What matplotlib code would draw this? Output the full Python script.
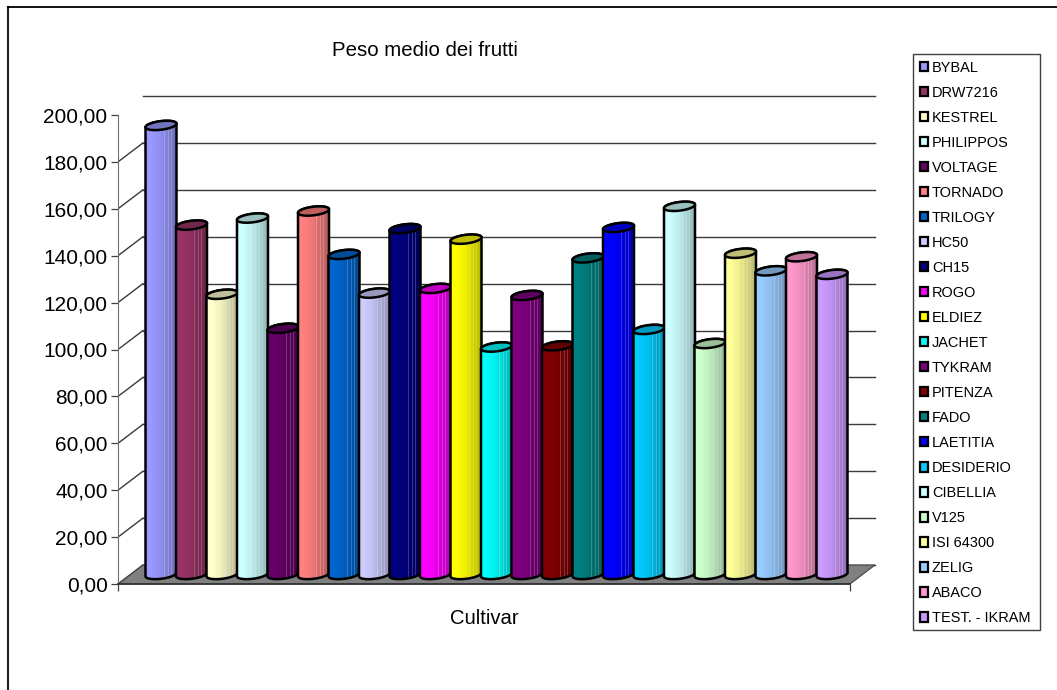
import matplotlib
matplotlib.use("Agg")
import matplotlib.pyplot as plt
from matplotlib.lines import Line2D
from matplotlib.patches import Patch, PathPatch, Polygon, Rectangle
from matplotlib.path import Path
from matplotlib.transforms import Affine2D, IdentityTransform
import numpy as np

plt.rcParams['font.family'] = ['Liberation Sans', 'DejaVu Sans']

cultivars = ["BYBAL", "DRW7216", "KESTREL", "PHILIPPOS", "VOLTAGE", "TORNADO", "TRILOGY", "HC50",
             "CH15", "ROGO", "ELDIEZ", "JACHET", "TYKRAM", "PITENZA", "FADO", "LAETITIA",
             "DESIDERIO", "CIBELLIA", "V125", "ISI 64300", "ZELIG", "ABACO", "TEST. - IKRAM"]
peso = [191.5, 149, 119.5, 152, 105, 155, 136.5, 120,
        147.5, 122, 143, 97, 119, 97.5, 135, 148,
        104.5, 157, 98.5, 137, 129.5, 135.5, 128]
colours = ["#9999FF", "#993366", "#FFFFCC", "#CCFFFF", "#660066", "#FF8080", "#0066CC", "#CCCCFF",
           "#000080", "#FF00FF", "#FFFF00", "#00FFFF", "#800080", "#800000", "#008080", "#0000FF",
           "#00CCFF", "#CCFFFF", "#CCFFCC", "#FFFF99", "#99CCFF", "#FF99CC", "#CC99FF"]
y_ticks = np.arange(0, 201, 20)

W, H = 1057, 690
WALL_DX, WALL_DY = 25, 19   # oblique shift of the back wall, in pixels
CYL_A, CYL_B, CYL_TILT = 15.5, 4.3, 1.8


def rgb(hex_colour):
    return np.array(matplotlib.colors.to_rgb(hex_colour))


def cylinder_shading(colour):
    # bright on the left, darker on the right, with the thin lighter streaks
    n = 32
    shade = np.interp(np.arange(n), [0, 5, 16, 31], [1.0, 1.0, 0.92, 0.72])
    col = np.outer(shade, rgb(colour))
    for k in (19, 23, 26):
        col[k] = col[k] + (1 - col[k]) * 0.2
    return col[np.newaxis, :, :].clip(0, 1)


def ellipse_xy(cx, cy, t):
    return cx + CYL_A * np.cos(t), cy + CYL_B * np.sin(t) + CYL_TILT * np.cos(t)


def draw_cylinder(ax, pos, value, colour, zorder):
    shift = Affine2D().translate(WALL_DX / 2, WALL_DY / 2)
    to_px = ax.transData + shift
    cx, y0 = to_px.transform((pos, 0))
    _, y1 = to_px.transform((pos, value))

    bottom = np.linspace(np.pi, 2 * np.pi, 40)
    top = np.linspace(0, np.pi, 40)
    bx, by = ellipse_xy(cx, y0, bottom)
    tx, ty = ellipse_xy(cx, y1, top)
    outline = np.column_stack([np.r_[bx, tx], np.r_[by, ty]])
    body = Path(np.vstack([outline, outline[0]]), closed=True)

    patch = PathPatch(body, transform=IdentityTransform(), fc="none", ec="black", lw=1.8,
                      zorder=zorder + 0.2, clip_on=False)
    ax.add_patch(patch)
    im = ax.imshow(cylinder_shading(colour), extent=(cx - CYL_A, cx + CYL_A, y0 - 8, y1 + 8),
                   transform=IdentityTransform(), aspect="auto", interpolation="nearest",
                   origin="lower", zorder=zorder)
    im.set_clip_path(PathPatch(body, transform=IdentityTransform()))

    rim = np.linspace(0, 2 * np.pi, 80)
    ex, ey = ellipse_xy(cx, y1, rim)
    ax.add_patch(Polygon(np.column_stack([ex, ey]), closed=True, transform=IdentityTransform(),
                         fc=rgb(colour) * 0.75, ec="black", lw=1.8, zorder=zorder + 0.3, clip_on=False))


fig = plt.figure(figsize=(W / 100, H / 100), dpi=100, facecolor="white")
ax = fig.add_axes([118 / W, (H - 584) / H, 732 / W, 469 / H])
ax.set_xlim(-1, 23)
ax.set_ylim(0, 200)
ax.patch.set_visible(False)

for side in ("top", "right"):
    ax.spines[side].set_visible(False)
ax.spines["left"].set_color("#707070")
ax.spines["bottom"].set_color("#303030")
ax.spines["bottom"].set_linewidth(1.2)

# back wall and the left wall rungs, pushed back from the front plane
wall = ax.transData + Affine2D().translate(WALL_DX, WALL_DY)
for v in y_ticks:
    ax.plot([-1, 23], [v, v], transform=wall, color="#3a3a3a", lw=1.0, clip_on=False, zorder=1)
    x0, y0 = ax.transData.transform((-1, v))
    ax.add_line(Line2D([x0, x0 + WALL_DX], [y0, y0 + WALL_DY], transform=IdentityTransform(),
                       color="#3a3a3a", lw=1.0, zorder=1))

# grey floor
corners = ax.transData.transform([(-1, 0), (23, 0)])
floor = [corners[0], corners[1], corners[1] + (WALL_DX, WALL_DY), corners[0] + (WALL_DX, WALL_DY)]
ax.add_patch(Polygon(floor, closed=True, transform=IdentityTransform(), fc="#808080",
                     ec="#404040", lw=0.8, zorder=1.5, clip_on=False))

for i, (v, c) in enumerate(zip(peso, colours)):
    draw_cylinder(ax, i, v, c, 3 + i * 0.5)

ax.set_yticks(y_ticks)
ax.set_yticklabels([f"{v:.2f}".replace(".", ",") for v in y_ticks], fontsize=15, color="black")
ax.set_xticks([-1, 23])
ax.set_xticklabels([])
ax.tick_params(axis="both", length=5, width=0.9, color="#404040", pad=2.5)
ax.set_xlabel("Cultivar", fontsize=14.6)
ax.xaxis.set_label_coords(0.5, -(624 - 584) / 469, transform=ax.transAxes)
ax.xaxis.label.set_verticalalignment("baseline")

fig.text(425 / W, 1 - 56.5 / H, "Peso medio dei frutti", fontsize=14.7, ha="center", va="baseline")

# chart border only shows on its top and left sides
fig.add_artist(Line2D([8 / W, 8 / W], [0, 1 - 7 / H], color="#202020", lw=1.5))
fig.add_artist(Line2D([8 / W, 1], [1 - 7 / H, 1 - 7 / H], color="black", lw=1.3))

# legend box is drawn separately so its width stays fixed
fig.add_artist(Rectangle((913 / W, 1 - 630 / H), 127 / W, 576 / H, transform=fig.transFigure,
                         fc="white", ec="#404040", lw=1.0))
handles = [Patch(fc=c, ec="black", lw=1.6) for c in colours]
leg = fig.legend(handles, cultivars, loc="upper left", bbox_to_anchor=(913 / W, 1 - 54 / H),
                 fontsize=10.45, frameon=False, handlelength=0.6, handleheight=0.6,
                 handletextpad=0.25, borderaxespad=0, labelspacing=0.76, borderpad=0.45,
                 labelcolor="black")

fig.savefig("out.png", dpi=100)
